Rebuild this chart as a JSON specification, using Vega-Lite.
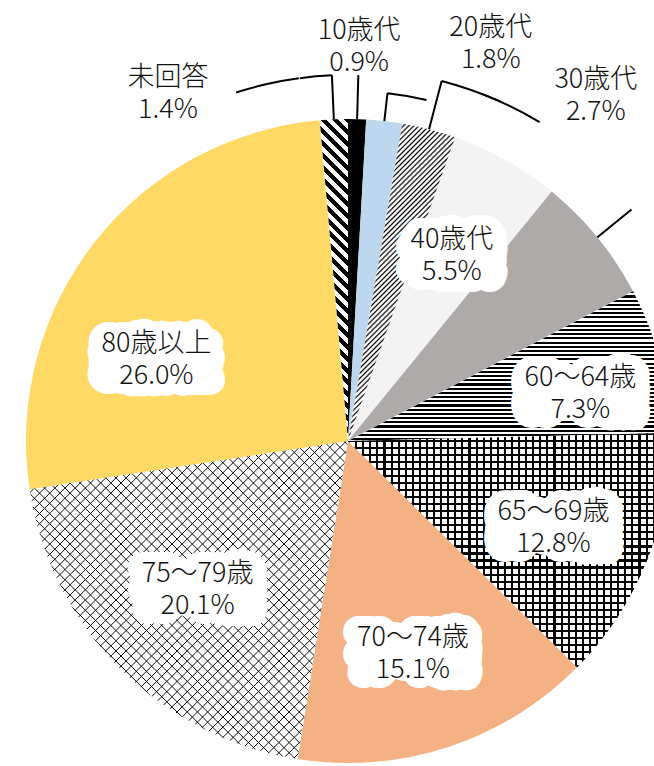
{
"$schema":"https://vega.github.io/schema/vega-lite/v6.json",
"width":612,"height":650,
"autosize":{"type":"none"},
"padding":{"left":42,"top":116,"right":0,"bottom":0},
"background":"white",
"usermeta":{"embedOptions":{"actions":false}},
"config":{"view":{"stroke":null}},
"data":{"values":[
{"group":"10歳代","share":0.009},
{"group":"20歳代","share":0.018},
{"group":"30歳代","share":0.027},
{"group":"40歳代","share":0.055},
{"group":"50歳代","share":0.064},
{"group":"60～64歳","share":0.073},
{"group":"65～69歳","share":0.128},
{"group":"70～74歳","share":0.151},
{"group":"75～79歳","share":0.201},
{"group":"80歳以上","share":0.26},
{"group":"未回答","share":0.014}
]},
"encoding":{
"theta":{"field":"share","type":"quantitative","stack":true,"scale":{"domain":[0,1]}},
"order":{"field":"group","type":"ordinal","sort":"ascending"},
"detail":{"field":"group","type":"nominal"}
},
"layer":[
{"mark":{"type":"arc","outerRadius":322},
"encoding":{"fill":{"field":"group","type":"nominal","legend":null,"scale":{"domain":["10歳代","20歳代","30歳代","40歳代","50歳代","60～64歳","65～69歳","70～74歳","75～79歳","80歳以上","未回答"],"range":["#000000","#BDD7EE","#ffffff","#f3f3f3","#AEAAAA","#ffffff","#ffffff","#F4B183","#ffffff","#FFD966","#ffffff"]}}}},
{"mark":{"type":"arc","outerRadius":322},
"encoding":{"fill":{"condition":[
{"test":"datum.group==='30歳代'","value":{"gradient":"linear","x1":0,"y1":0,"x2":0.4048,"y2":1.2007,"stops":[
{"offset":0,"color":"transparent"},{"offset":0.004,"color":"#000"},{"offset":0.008,"color":"transparent"},
{"offset":0.012,"color":"transparent"},{"offset":0.016,"color":"#000"},{"offset":0.02,"color":"transparent"},
{"offset":0.024,"color":"transparent"},{"offset":0.028,"color":"#000"},{"offset":0.032,"color":"transparent"},
{"offset":0.036,"color":"transparent"},{"offset":0.04,"color":"#000"},{"offset":0.044,"color":"transparent"},
{"offset":0.048,"color":"transparent"},{"offset":0.052,"color":"#000"},{"offset":0.056,"color":"transparent"},
{"offset":0.06,"color":"transparent"},{"offset":0.064,"color":"#000"},{"offset":0.068,"color":"transparent"},
{"offset":0.072,"color":"transparent"},{"offset":0.076,"color":"#000"},{"offset":0.08,"color":"transparent"},
{"offset":0.084,"color":"transparent"},{"offset":0.088,"color":"#000"},{"offset":0.092,"color":"transparent"},
{"offset":0.096,"color":"transparent"},{"offset":0.1,"color":"#000"},{"offset":0.104,"color":"transparent"},
{"offset":0.108,"color":"transparent"},{"offset":0.112,"color":"#000"},{"offset":0.116,"color":"transparent"},
{"offset":0.12,"color":"transparent"},{"offset":0.124,"color":"#000"},{"offset":0.128,"color":"transparent"},
{"offset":0.132,"color":"transparent"},{"offset":0.136,"color":"#000"},{"offset":0.14,"color":"transparent"},
{"offset":0.144,"color":"transparent"},{"offset":0.148,"color":"#000"},{"offset":0.152,"color":"transparent"},
{"offset":0.156,"color":"transparent"},{"offset":0.16,"color":"#000"},{"offset":0.164,"color":"transparent"},
{"offset":0.168,"color":"transparent"},{"offset":0.172,"color":"#000"},{"offset":0.176,"color":"transparent"},
{"offset":0.18,"color":"transparent"},{"offset":0.184,"color":"#000"},{"offset":0.188,"color":"transparent"},
{"offset":0.192,"color":"transparent"},{"offset":0.196,"color":"#000"},{"offset":0.2,"color":"transparent"},
{"offset":0.204,"color":"transparent"},{"offset":0.208,"color":"#000"},{"offset":0.212,"color":"transparent"},
{"offset":0.216,"color":"transparent"},{"offset":0.22,"color":"#000"},{"offset":0.224,"color":"transparent"},
{"offset":0.228,"color":"transparent"},{"offset":0.232,"color":"#000"},{"offset":0.236,"color":"transparent"},
{"offset":0.24,"color":"transparent"},{"offset":0.244,"color":"#000"},{"offset":0.248,"color":"transparent"},
{"offset":0.252,"color":"transparent"},{"offset":0.256,"color":"#000"},{"offset":0.26,"color":"transparent"},
{"offset":0.264,"color":"transparent"},{"offset":0.268,"color":"#000"},{"offset":0.272,"color":"transparent"},
{"offset":0.276,"color":"transparent"},{"offset":0.28,"color":"#000"},{"offset":0.284,"color":"transparent"},
{"offset":0.288,"color":"transparent"},{"offset":0.292,"color":"#000"},{"offset":0.296,"color":"transparent"},
{"offset":0.3,"color":"transparent"},{"offset":0.304,"color":"#000"},{"offset":0.308,"color":"transparent"},
{"offset":0.312,"color":"transparent"},{"offset":0.316,"color":"#000"},{"offset":0.32,"color":"transparent"},
{"offset":0.324,"color":"transparent"},{"offset":0.328,"color":"#000"},{"offset":0.332,"color":"transparent"},
{"offset":0.336,"color":"transparent"},{"offset":0.34,"color":"#000"},{"offset":0.344,"color":"transparent"},
{"offset":0.348,"color":"transparent"},{"offset":0.352,"color":"#000"},{"offset":0.356,"color":"transparent"},
{"offset":0.36,"color":"transparent"},{"offset":0.364,"color":"#000"},{"offset":0.368,"color":"transparent"},
{"offset":0.372,"color":"transparent"},{"offset":0.376,"color":"#000"},{"offset":0.38,"color":"transparent"},
{"offset":0.384,"color":"transparent"},{"offset":0.388,"color":"#000"},{"offset":0.392,"color":"transparent"},
{"offset":0.396,"color":"transparent"},{"offset":0.4,"color":"#000"},{"offset":0.404,"color":"transparent"},
{"offset":0.408,"color":"transparent"},{"offset":0.412,"color":"#000"},{"offset":0.416,"color":"transparent"},
{"offset":0.42,"color":"transparent"},{"offset":0.424,"color":"#000"},{"offset":0.428,"color":"transparent"},
{"offset":0.432,"color":"transparent"},{"offset":0.436,"color":"#000"},{"offset":0.44,"color":"transparent"},
{"offset":0.444,"color":"transparent"},{"offset":0.448,"color":"#000"},{"offset":0.452,"color":"transparent"},
{"offset":0.456,"color":"transparent"},{"offset":0.46,"color":"#000"},{"offset":0.464,"color":"transparent"},
{"offset":0.468,"color":"transparent"},{"offset":0.472,"color":"#000"},{"offset":0.476,"color":"transparent"},
{"offset":0.48,"color":"transparent"},{"offset":0.484,"color":"#000"},{"offset":0.488,"color":"transparent"},
{"offset":0.492,"color":"transparent"},{"offset":0.496,"color":"#000"},{"offset":0.5,"color":"transparent"},
{"offset":0.504,"color":"transparent"},{"offset":0.508,"color":"#000"},{"offset":0.512,"color":"transparent"},
{"offset":0.516,"color":"transparent"},{"offset":0.52,"color":"#000"},{"offset":0.524,"color":"transparent"},
{"offset":0.528,"color":"transparent"},{"offset":0.532,"color":"#000"},{"offset":0.536,"color":"transparent"},
{"offset":0.54,"color":"transparent"},{"offset":0.544,"color":"#000"},{"offset":0.548,"color":"transparent"},
{"offset":0.552,"color":"transparent"},{"offset":0.556,"color":"#000"},{"offset":0.56,"color":"transparent"},
{"offset":0.564,"color":"transparent"},{"offset":0.568,"color":"#000"},{"offset":0.572,"color":"transparent"},
{"offset":0.576,"color":"transparent"},{"offset":0.58,"color":"#000"},{"offset":0.584,"color":"transparent"},
{"offset":0.588,"color":"transparent"},{"offset":0.592,"color":"#000"},{"offset":0.596,"color":"transparent"},
{"offset":0.6,"color":"transparent"},{"offset":0.604,"color":"#000"},{"offset":0.608,"color":"transparent"},
{"offset":0.612,"color":"transparent"},{"offset":0.616,"color":"#000"},{"offset":0.62,"color":"transparent"},
{"offset":0.624,"color":"transparent"},{"offset":0.628,"color":"#000"},{"offset":0.632,"color":"transparent"},
{"offset":0.636,"color":"transparent"},{"offset":0.64,"color":"#000"},{"offset":0.644,"color":"transparent"},
{"offset":0.648,"color":"transparent"},{"offset":0.652,"color":"#000"},{"offset":0.656,"color":"transparent"},
{"offset":0.66,"color":"transparent"},{"offset":0.664,"color":"#000"},{"offset":0.668,"color":"transparent"},
{"offset":0.672,"color":"transparent"},{"offset":0.676,"color":"#000"},{"offset":0.68,"color":"transparent"},
{"offset":0.684,"color":"transparent"},{"offset":0.688,"color":"#000"},{"offset":0.692,"color":"transparent"},
{"offset":0.696,"color":"transparent"},{"offset":0.7,"color":"#000"},{"offset":0.704,"color":"transparent"},
{"offset":0.708,"color":"transparent"},{"offset":0.712,"color":"#000"},{"offset":0.716,"color":"transparent"},
{"offset":0.72,"color":"transparent"},{"offset":0.724,"color":"#000"},{"offset":0.728,"color":"transparent"},
{"offset":0.732,"color":"transparent"},{"offset":0.736,"color":"#000"},{"offset":0.74,"color":"transparent"},
{"offset":0.744,"color":"transparent"},{"offset":0.748,"color":"#000"},{"offset":0.752,"color":"transparent"},
{"offset":0.756,"color":"transparent"},{"offset":0.76,"color":"#000"},{"offset":0.764,"color":"transparent"},
{"offset":0.768,"color":"transparent"},{"offset":0.772,"color":"#000"},{"offset":0.776,"color":"transparent"},
{"offset":0.78,"color":"transparent"},{"offset":0.784,"color":"#000"},{"offset":0.788,"color":"transparent"},
{"offset":0.792,"color":"transparent"},{"offset":0.796,"color":"#000"},{"offset":0.8,"color":"transparent"},
{"offset":0.804,"color":"transparent"},{"offset":0.808,"color":"#000"},{"offset":0.812,"color":"transparent"},
{"offset":0.816,"color":"transparent"},{"offset":0.82,"color":"#000"},{"offset":0.824,"color":"transparent"},
{"offset":0.828,"color":"transparent"},{"offset":0.832,"color":"#000"},{"offset":0.836,"color":"transparent"},
{"offset":0.84,"color":"transparent"},{"offset":0.844,"color":"#000"},{"offset":0.848,"color":"transparent"},
{"offset":0.852,"color":"transparent"},{"offset":0.856,"color":"#000"},{"offset":0.86,"color":"transparent"},
{"offset":0.864,"color":"transparent"},{"offset":0.868,"color":"#000"},{"offset":0.872,"color":"transparent"},
{"offset":0.876,"color":"transparent"},{"offset":0.88,"color":"#000"},{"offset":0.884,"color":"transparent"},
{"offset":0.888,"color":"transparent"},{"offset":0.892,"color":"#000"},{"offset":0.896,"color":"transparent"},
{"offset":0.9,"color":"transparent"},{"offset":0.904,"color":"#000"},{"offset":0.908,"color":"transparent"},
{"offset":0.912,"color":"transparent"},{"offset":0.916,"color":"#000"},{"offset":0.92,"color":"transparent"},
{"offset":0.924,"color":"transparent"},{"offset":0.928,"color":"#000"},{"offset":0.932,"color":"transparent"},
{"offset":0.936,"color":"transparent"},{"offset":0.94,"color":"#000"},{"offset":0.944,"color":"transparent"},
{"offset":0.948,"color":"transparent"},{"offset":0.952,"color":"#000"},{"offset":0.956,"color":"transparent"},
{"offset":0.96,"color":"transparent"},{"offset":0.964,"color":"#000"},{"offset":0.968,"color":"transparent"},
{"offset":0.972,"color":"transparent"},{"offset":0.976,"color":"#000"},{"offset":0.98,"color":"transparent"},
{"offset":0.984,"color":"transparent"},{"offset":0.988,"color":"#000"},{"offset":0.992,"color":"transparent"},
{"offset":0.996,"color":"transparent"},{"offset":1,"color":"#000"}
]}},
{"test":"datum.group==='60～64歳'","value":{"gradient":"linear","x1":0,"y1":0,"x2":0,"y2":1,"stops":[
{"offset":0,"color":"#000"},{"offset":0.014,"color":"#000"},{"offset":0.014,"color":"#fff"},{"offset":0.028,"color":"#fff"},
{"offset":0.028,"color":"#000"},{"offset":0.042,"color":"#000"},{"offset":0.042,"color":"#fff"},{"offset":0.056,"color":"#fff"},
{"offset":0.056,"color":"#000"},{"offset":0.07,"color":"#000"},{"offset":0.07,"color":"#fff"},{"offset":0.084,"color":"#fff"},
{"offset":0.084,"color":"#000"},{"offset":0.098,"color":"#000"},{"offset":0.098,"color":"#fff"},{"offset":0.112,"color":"#fff"},
{"offset":0.112,"color":"#000"},{"offset":0.126,"color":"#000"},{"offset":0.126,"color":"#fff"},{"offset":0.14,"color":"#fff"},
{"offset":0.14,"color":"#000"},{"offset":0.154,"color":"#000"},{"offset":0.154,"color":"#fff"},{"offset":0.168,"color":"#fff"},
{"offset":0.168,"color":"#000"},{"offset":0.182,"color":"#000"},{"offset":0.182,"color":"#fff"},{"offset":0.196,"color":"#fff"},
{"offset":0.196,"color":"#000"},{"offset":0.21,"color":"#000"},{"offset":0.21,"color":"#fff"},{"offset":0.224,"color":"#fff"},
{"offset":0.224,"color":"#000"},{"offset":0.238,"color":"#000"},{"offset":0.238,"color":"#fff"},{"offset":0.252,"color":"#fff"},
{"offset":0.252,"color":"#000"},{"offset":0.266,"color":"#000"},{"offset":0.266,"color":"#fff"},{"offset":0.28,"color":"#fff"},
{"offset":0.28,"color":"#000"},{"offset":0.294,"color":"#000"},{"offset":0.294,"color":"#fff"},{"offset":0.308,"color":"#fff"},
{"offset":0.308,"color":"#000"},{"offset":0.322,"color":"#000"},{"offset":0.322,"color":"#fff"},{"offset":0.336,"color":"#fff"},
{"offset":0.336,"color":"#000"},{"offset":0.35,"color":"#000"},{"offset":0.35,"color":"#fff"},{"offset":0.364,"color":"#fff"},
{"offset":0.364,"color":"#000"},{"offset":0.378,"color":"#000"},{"offset":0.378,"color":"#fff"},{"offset":0.392,"color":"#fff"},
{"offset":0.392,"color":"#000"},{"offset":0.406,"color":"#000"},{"offset":0.406,"color":"#fff"},{"offset":0.42,"color":"#fff"},
{"offset":0.42,"color":"#000"},{"offset":0.434,"color":"#000"},{"offset":0.434,"color":"#fff"},{"offset":0.448,"color":"#fff"},
{"offset":0.448,"color":"#000"},{"offset":0.462,"color":"#000"},{"offset":0.462,"color":"#fff"},{"offset":0.476,"color":"#fff"},
{"offset":0.476,"color":"#000"},{"offset":0.49,"color":"#000"},{"offset":0.49,"color":"#fff"},{"offset":0.504,"color":"#fff"},
{"offset":0.504,"color":"#000"},{"offset":0.518,"color":"#000"},{"offset":0.518,"color":"#fff"},{"offset":0.532,"color":"#fff"},
{"offset":0.532,"color":"#000"},{"offset":0.546,"color":"#000"},{"offset":0.546,"color":"#fff"},{"offset":0.56,"color":"#fff"},
{"offset":0.56,"color":"#000"},{"offset":0.574,"color":"#000"},{"offset":0.574,"color":"#fff"},{"offset":0.588,"color":"#fff"},
{"offset":0.588,"color":"#000"},{"offset":0.602,"color":"#000"},{"offset":0.602,"color":"#fff"},{"offset":0.616,"color":"#fff"},
{"offset":0.616,"color":"#000"},{"offset":0.63,"color":"#000"},{"offset":0.63,"color":"#fff"},{"offset":0.644,"color":"#fff"},
{"offset":0.644,"color":"#000"},{"offset":0.658,"color":"#000"},{"offset":0.658,"color":"#fff"},{"offset":0.672,"color":"#fff"},
{"offset":0.672,"color":"#000"},{"offset":0.686,"color":"#000"},{"offset":0.686,"color":"#fff"},{"offset":0.7,"color":"#fff"},
{"offset":0.7,"color":"#000"},{"offset":0.714,"color":"#000"},{"offset":0.714,"color":"#fff"},{"offset":0.728,"color":"#fff"},
{"offset":0.728,"color":"#000"},{"offset":0.742,"color":"#000"},{"offset":0.742,"color":"#fff"},{"offset":0.756,"color":"#fff"},
{"offset":0.756,"color":"#000"},{"offset":0.77,"color":"#000"},{"offset":0.77,"color":"#fff"},{"offset":0.784,"color":"#fff"},
{"offset":0.784,"color":"#000"},{"offset":0.798,"color":"#000"},{"offset":0.798,"color":"#fff"},{"offset":0.812,"color":"#fff"},
{"offset":0.812,"color":"#000"},{"offset":0.826,"color":"#000"},{"offset":0.826,"color":"#fff"},{"offset":0.84,"color":"#fff"},
{"offset":0.84,"color":"#000"},{"offset":0.854,"color":"#000"},{"offset":0.854,"color":"#fff"},{"offset":0.868,"color":"#fff"},
{"offset":0.868,"color":"#000"},{"offset":0.882,"color":"#000"},{"offset":0.882,"color":"#fff"},{"offset":0.896,"color":"#fff"},
{"offset":0.896,"color":"#000"},{"offset":0.91,"color":"#000"},{"offset":0.91,"color":"#fff"},{"offset":0.924,"color":"#fff"},
{"offset":0.924,"color":"#000"},{"offset":0.938,"color":"#000"},{"offset":0.938,"color":"#fff"},{"offset":0.952,"color":"#fff"},
{"offset":0.952,"color":"#000"},{"offset":0.966,"color":"#000"},{"offset":0.966,"color":"#fff"},{"offset":0.98,"color":"#fff"},
{"offset":0.98,"color":"#000"},{"offset":0.994,"color":"#000"},{"offset":0.994,"color":"#fff"},{"offset":1,"color":"#fff"}
]}},
{"test":"datum.group==='65～69歳'","value":{"gradient":"linear","x1":0,"y1":0,"x2":0,"y2":1,"stops":[
{"offset":0,"color":"#000"},{"offset":0.009,"color":"#000"},{"offset":0.009,"color":"#fff"},{"offset":0.03,"color":"#fff"},
{"offset":0.03,"color":"#000"},{"offset":0.039,"color":"#000"},{"offset":0.039,"color":"#fff"},{"offset":0.06,"color":"#fff"},
{"offset":0.06,"color":"#000"},{"offset":0.069,"color":"#000"},{"offset":0.069,"color":"#fff"},{"offset":0.09,"color":"#fff"},
{"offset":0.09,"color":"#000"},{"offset":0.099,"color":"#000"},{"offset":0.099,"color":"#fff"},{"offset":0.12,"color":"#fff"},
{"offset":0.12,"color":"#000"},{"offset":0.129,"color":"#000"},{"offset":0.129,"color":"#fff"},{"offset":0.15,"color":"#fff"},
{"offset":0.15,"color":"#000"},{"offset":0.159,"color":"#000"},{"offset":0.159,"color":"#fff"},{"offset":0.18,"color":"#fff"},
{"offset":0.18,"color":"#000"},{"offset":0.189,"color":"#000"},{"offset":0.189,"color":"#fff"},{"offset":0.21,"color":"#fff"},
{"offset":0.21,"color":"#000"},{"offset":0.219,"color":"#000"},{"offset":0.219,"color":"#fff"},{"offset":0.24,"color":"#fff"},
{"offset":0.24,"color":"#000"},{"offset":0.249,"color":"#000"},{"offset":0.249,"color":"#fff"},{"offset":0.27,"color":"#fff"},
{"offset":0.27,"color":"#000"},{"offset":0.279,"color":"#000"},{"offset":0.279,"color":"#fff"},{"offset":0.3,"color":"#fff"},
{"offset":0.3,"color":"#000"},{"offset":0.309,"color":"#000"},{"offset":0.309,"color":"#fff"},{"offset":0.33,"color":"#fff"},
{"offset":0.33,"color":"#000"},{"offset":0.339,"color":"#000"},{"offset":0.339,"color":"#fff"},{"offset":0.36,"color":"#fff"},
{"offset":0.36,"color":"#000"},{"offset":0.369,"color":"#000"},{"offset":0.369,"color":"#fff"},{"offset":0.39,"color":"#fff"},
{"offset":0.39,"color":"#000"},{"offset":0.399,"color":"#000"},{"offset":0.399,"color":"#fff"},{"offset":0.42,"color":"#fff"},
{"offset":0.42,"color":"#000"},{"offset":0.429,"color":"#000"},{"offset":0.429,"color":"#fff"},{"offset":0.45,"color":"#fff"},
{"offset":0.45,"color":"#000"},{"offset":0.459,"color":"#000"},{"offset":0.459,"color":"#fff"},{"offset":0.48,"color":"#fff"},
{"offset":0.48,"color":"#000"},{"offset":0.489,"color":"#000"},{"offset":0.489,"color":"#fff"},{"offset":0.51,"color":"#fff"},
{"offset":0.51,"color":"#000"},{"offset":0.519,"color":"#000"},{"offset":0.519,"color":"#fff"},{"offset":0.54,"color":"#fff"},
{"offset":0.54,"color":"#000"},{"offset":0.549,"color":"#000"},{"offset":0.549,"color":"#fff"},{"offset":0.57,"color":"#fff"},
{"offset":0.57,"color":"#000"},{"offset":0.579,"color":"#000"},{"offset":0.579,"color":"#fff"},{"offset":0.6,"color":"#fff"},
{"offset":0.6,"color":"#000"},{"offset":0.609,"color":"#000"},{"offset":0.609,"color":"#fff"},{"offset":0.63,"color":"#fff"},
{"offset":0.63,"color":"#000"},{"offset":0.639,"color":"#000"},{"offset":0.639,"color":"#fff"},{"offset":0.66,"color":"#fff"},
{"offset":0.66,"color":"#000"},{"offset":0.669,"color":"#000"},{"offset":0.669,"color":"#fff"},{"offset":0.69,"color":"#fff"},
{"offset":0.69,"color":"#000"},{"offset":0.699,"color":"#000"},{"offset":0.699,"color":"#fff"},{"offset":0.72,"color":"#fff"},
{"offset":0.72,"color":"#000"},{"offset":0.729,"color":"#000"},{"offset":0.729,"color":"#fff"},{"offset":0.75,"color":"#fff"},
{"offset":0.75,"color":"#000"},{"offset":0.759,"color":"#000"},{"offset":0.759,"color":"#fff"},{"offset":0.78,"color":"#fff"},
{"offset":0.78,"color":"#000"},{"offset":0.789,"color":"#000"},{"offset":0.789,"color":"#fff"},{"offset":0.81,"color":"#fff"},
{"offset":0.81,"color":"#000"},{"offset":0.819,"color":"#000"},{"offset":0.819,"color":"#fff"},{"offset":0.84,"color":"#fff"},
{"offset":0.84,"color":"#000"},{"offset":0.849,"color":"#000"},{"offset":0.849,"color":"#fff"},{"offset":0.87,"color":"#fff"},
{"offset":0.87,"color":"#000"},{"offset":0.879,"color":"#000"},{"offset":0.879,"color":"#fff"},{"offset":0.9,"color":"#fff"},
{"offset":0.9,"color":"#000"},{"offset":0.909,"color":"#000"},{"offset":0.909,"color":"#fff"},{"offset":0.93,"color":"#fff"},
{"offset":0.93,"color":"#000"},{"offset":0.939,"color":"#000"},{"offset":0.939,"color":"#fff"},{"offset":0.96,"color":"#fff"},
{"offset":0.96,"color":"#000"},{"offset":0.969,"color":"#000"},{"offset":0.969,"color":"#fff"},{"offset":0.99,"color":"#fff"},
{"offset":0.99,"color":"#000"},{"offset":0.999,"color":"#000"},{"offset":0.999,"color":"#fff"},{"offset":1,"color":"#fff"}
]}},
{"test":"datum.group==='75～79歳'","value":{"gradient":"linear","x1":0,"y1":0,"x2":1,"y2":1,"stops":[
{"offset":0,"color":"transparent"},{"offset":0.0015,"color":"#000"},{"offset":0.003,"color":"transparent"},
{"offset":0.016,"color":"transparent"},{"offset":0.0175,"color":"#000"},{"offset":0.019,"color":"transparent"},
{"offset":0.032,"color":"transparent"},{"offset":0.0335,"color":"#000"},{"offset":0.035,"color":"transparent"},
{"offset":0.048,"color":"transparent"},{"offset":0.0495,"color":"#000"},{"offset":0.051,"color":"transparent"},
{"offset":0.064,"color":"transparent"},{"offset":0.0655,"color":"#000"},{"offset":0.067,"color":"transparent"},
{"offset":0.08,"color":"transparent"},{"offset":0.0815,"color":"#000"},{"offset":0.083,"color":"transparent"},
{"offset":0.096,"color":"transparent"},{"offset":0.0975,"color":"#000"},{"offset":0.099,"color":"transparent"},
{"offset":0.112,"color":"transparent"},{"offset":0.1135,"color":"#000"},{"offset":0.115,"color":"transparent"},
{"offset":0.128,"color":"transparent"},{"offset":0.1295,"color":"#000"},{"offset":0.131,"color":"transparent"},
{"offset":0.144,"color":"transparent"},{"offset":0.1455,"color":"#000"},{"offset":0.147,"color":"transparent"},
{"offset":0.16,"color":"transparent"},{"offset":0.1615,"color":"#000"},{"offset":0.163,"color":"transparent"},
{"offset":0.176,"color":"transparent"},{"offset":0.1775,"color":"#000"},{"offset":0.179,"color":"transparent"},
{"offset":0.192,"color":"transparent"},{"offset":0.1935,"color":"#000"},{"offset":0.195,"color":"transparent"},
{"offset":0.208,"color":"transparent"},{"offset":0.2095,"color":"#000"},{"offset":0.211,"color":"transparent"},
{"offset":0.224,"color":"transparent"},{"offset":0.2255,"color":"#000"},{"offset":0.227,"color":"transparent"},
{"offset":0.24,"color":"transparent"},{"offset":0.2415,"color":"#000"},{"offset":0.243,"color":"transparent"},
{"offset":0.256,"color":"transparent"},{"offset":0.2575,"color":"#000"},{"offset":0.259,"color":"transparent"},
{"offset":0.272,"color":"transparent"},{"offset":0.2735,"color":"#000"},{"offset":0.275,"color":"transparent"},
{"offset":0.288,"color":"transparent"},{"offset":0.2895,"color":"#000"},{"offset":0.291,"color":"transparent"},
{"offset":0.304,"color":"transparent"},{"offset":0.3055,"color":"#000"},{"offset":0.307,"color":"transparent"},
{"offset":0.32,"color":"transparent"},{"offset":0.3215,"color":"#000"},{"offset":0.323,"color":"transparent"},
{"offset":0.336,"color":"transparent"},{"offset":0.3375,"color":"#000"},{"offset":0.339,"color":"transparent"},
{"offset":0.352,"color":"transparent"},{"offset":0.3535,"color":"#000"},{"offset":0.355,"color":"transparent"},
{"offset":0.368,"color":"transparent"},{"offset":0.3695,"color":"#000"},{"offset":0.371,"color":"transparent"},
{"offset":0.384,"color":"transparent"},{"offset":0.3855,"color":"#000"},{"offset":0.387,"color":"transparent"},
{"offset":0.4,"color":"transparent"},{"offset":0.4015,"color":"#000"},{"offset":0.403,"color":"transparent"},
{"offset":0.416,"color":"transparent"},{"offset":0.4175,"color":"#000"},{"offset":0.419,"color":"transparent"},
{"offset":0.432,"color":"transparent"},{"offset":0.4335,"color":"#000"},{"offset":0.435,"color":"transparent"},
{"offset":0.448,"color":"transparent"},{"offset":0.4495,"color":"#000"},{"offset":0.451,"color":"transparent"},
{"offset":0.464,"color":"transparent"},{"offset":0.4655,"color":"#000"},{"offset":0.467,"color":"transparent"},
{"offset":0.48,"color":"transparent"},{"offset":0.4815,"color":"#000"},{"offset":0.483,"color":"transparent"},
{"offset":0.496,"color":"transparent"},{"offset":0.4975,"color":"#000"},{"offset":0.499,"color":"transparent"},
{"offset":0.512,"color":"transparent"},{"offset":0.5135,"color":"#000"},{"offset":0.515,"color":"transparent"},
{"offset":0.528,"color":"transparent"},{"offset":0.5295,"color":"#000"},{"offset":0.531,"color":"transparent"},
{"offset":0.544,"color":"transparent"},{"offset":0.5455,"color":"#000"},{"offset":0.547,"color":"transparent"},
{"offset":0.56,"color":"transparent"},{"offset":0.5615,"color":"#000"},{"offset":0.563,"color":"transparent"},
{"offset":0.576,"color":"transparent"},{"offset":0.5775,"color":"#000"},{"offset":0.579,"color":"transparent"},
{"offset":0.592,"color":"transparent"},{"offset":0.5935,"color":"#000"},{"offset":0.595,"color":"transparent"},
{"offset":0.608,"color":"transparent"},{"offset":0.6095,"color":"#000"},{"offset":0.611,"color":"transparent"},
{"offset":0.624,"color":"transparent"},{"offset":0.6255,"color":"#000"},{"offset":0.627,"color":"transparent"},
{"offset":0.64,"color":"transparent"},{"offset":0.6415,"color":"#000"},{"offset":0.643,"color":"transparent"},
{"offset":0.656,"color":"transparent"},{"offset":0.6575,"color":"#000"},{"offset":0.659,"color":"transparent"},
{"offset":0.672,"color":"transparent"},{"offset":0.6735,"color":"#000"},{"offset":0.675,"color":"transparent"},
{"offset":0.688,"color":"transparent"},{"offset":0.6895,"color":"#000"},{"offset":0.691,"color":"transparent"},
{"offset":0.704,"color":"transparent"},{"offset":0.7055,"color":"#000"},{"offset":0.707,"color":"transparent"},
{"offset":0.72,"color":"transparent"},{"offset":0.7215,"color":"#000"},{"offset":0.723,"color":"transparent"},
{"offset":0.736,"color":"transparent"},{"offset":0.7375,"color":"#000"},{"offset":0.739,"color":"transparent"},
{"offset":0.752,"color":"transparent"},{"offset":0.7535,"color":"#000"},{"offset":0.755,"color":"transparent"},
{"offset":0.768,"color":"transparent"},{"offset":0.7695,"color":"#000"},{"offset":0.771,"color":"transparent"},
{"offset":0.784,"color":"transparent"},{"offset":0.7855,"color":"#000"},{"offset":0.787,"color":"transparent"},
{"offset":0.8,"color":"transparent"},{"offset":0.8015,"color":"#000"},{"offset":0.803,"color":"transparent"},
{"offset":0.816,"color":"transparent"},{"offset":0.8175,"color":"#000"},{"offset":0.819,"color":"transparent"},
{"offset":0.832,"color":"transparent"},{"offset":0.8335,"color":"#000"},{"offset":0.835,"color":"transparent"},
{"offset":0.848,"color":"transparent"},{"offset":0.8495,"color":"#000"},{"offset":0.851,"color":"transparent"},
{"offset":0.864,"color":"transparent"},{"offset":0.8655,"color":"#000"},{"offset":0.867,"color":"transparent"},
{"offset":0.88,"color":"transparent"},{"offset":0.8815,"color":"#000"},{"offset":0.883,"color":"transparent"},
{"offset":0.896,"color":"transparent"},{"offset":0.8975,"color":"#000"},{"offset":0.899,"color":"transparent"},
{"offset":0.912,"color":"transparent"},{"offset":0.9135,"color":"#000"},{"offset":0.915,"color":"transparent"},
{"offset":0.928,"color":"transparent"},{"offset":0.9295,"color":"#000"},{"offset":0.931,"color":"transparent"},
{"offset":0.944,"color":"transparent"},{"offset":0.9455,"color":"#000"},{"offset":0.947,"color":"transparent"},
{"offset":0.96,"color":"transparent"},{"offset":0.9615,"color":"#000"},{"offset":0.963,"color":"transparent"},
{"offset":0.976,"color":"transparent"},{"offset":0.9775,"color":"#000"},{"offset":0.979,"color":"transparent"},
{"offset":0.992,"color":"transparent"},{"offset":0.9935,"color":"#000"},{"offset":0.995,"color":"transparent"}
]}},
{"test":"datum.group==='未回答'","value":{"gradient":"linear","x1":0,"y1":1,"x2":0.0949,"y2":-0.0795,"stops":[
{"offset":0,"color":"#000"},{"offset":0.017,"color":"#000"},{"offset":0.017,"color":"#fff"},{"offset":0.034,"color":"#fff"},
{"offset":0.034,"color":"#000"},{"offset":0.051,"color":"#000"},{"offset":0.051,"color":"#fff"},{"offset":0.068,"color":"#fff"},
{"offset":0.068,"color":"#000"},{"offset":0.085,"color":"#000"},{"offset":0.085,"color":"#fff"},{"offset":0.102,"color":"#fff"},
{"offset":0.102,"color":"#000"},{"offset":0.119,"color":"#000"},{"offset":0.119,"color":"#fff"},{"offset":0.136,"color":"#fff"},
{"offset":0.136,"color":"#000"},{"offset":0.153,"color":"#000"},{"offset":0.153,"color":"#fff"},{"offset":0.17,"color":"#fff"},
{"offset":0.17,"color":"#000"},{"offset":0.187,"color":"#000"},{"offset":0.187,"color":"#fff"},{"offset":0.204,"color":"#fff"},
{"offset":0.204,"color":"#000"},{"offset":0.221,"color":"#000"},{"offset":0.221,"color":"#fff"},{"offset":0.238,"color":"#fff"},
{"offset":0.238,"color":"#000"},{"offset":0.255,"color":"#000"},{"offset":0.255,"color":"#fff"},{"offset":0.272,"color":"#fff"},
{"offset":0.272,"color":"#000"},{"offset":0.289,"color":"#000"},{"offset":0.289,"color":"#fff"},{"offset":0.306,"color":"#fff"},
{"offset":0.306,"color":"#000"},{"offset":0.323,"color":"#000"},{"offset":0.323,"color":"#fff"},{"offset":0.34,"color":"#fff"},
{"offset":0.34,"color":"#000"},{"offset":0.357,"color":"#000"},{"offset":0.357,"color":"#fff"},{"offset":0.374,"color":"#fff"},
{"offset":0.374,"color":"#000"},{"offset":0.391,"color":"#000"},{"offset":0.391,"color":"#fff"},{"offset":0.408,"color":"#fff"},
{"offset":0.408,"color":"#000"},{"offset":0.425,"color":"#000"},{"offset":0.425,"color":"#fff"},{"offset":0.442,"color":"#fff"},
{"offset":0.442,"color":"#000"},{"offset":0.459,"color":"#000"},{"offset":0.459,"color":"#fff"},{"offset":0.476,"color":"#fff"},
{"offset":0.476,"color":"#000"},{"offset":0.493,"color":"#000"},{"offset":0.493,"color":"#fff"},{"offset":0.51,"color":"#fff"},
{"offset":0.51,"color":"#000"},{"offset":0.527,"color":"#000"},{"offset":0.527,"color":"#fff"},{"offset":0.544,"color":"#fff"},
{"offset":0.544,"color":"#000"},{"offset":0.561,"color":"#000"},{"offset":0.561,"color":"#fff"},{"offset":0.578,"color":"#fff"},
{"offset":0.578,"color":"#000"},{"offset":0.595,"color":"#000"},{"offset":0.595,"color":"#fff"},{"offset":0.612,"color":"#fff"},
{"offset":0.612,"color":"#000"},{"offset":0.629,"color":"#000"},{"offset":0.629,"color":"#fff"},{"offset":0.646,"color":"#fff"},
{"offset":0.646,"color":"#000"},{"offset":0.663,"color":"#000"},{"offset":0.663,"color":"#fff"},{"offset":0.68,"color":"#fff"},
{"offset":0.68,"color":"#000"},{"offset":0.697,"color":"#000"},{"offset":0.697,"color":"#fff"},{"offset":0.714,"color":"#fff"},
{"offset":0.714,"color":"#000"},{"offset":0.731,"color":"#000"},{"offset":0.731,"color":"#fff"},{"offset":0.748,"color":"#fff"},
{"offset":0.748,"color":"#000"},{"offset":0.765,"color":"#000"},{"offset":0.765,"color":"#fff"},{"offset":0.782,"color":"#fff"},
{"offset":0.782,"color":"#000"},{"offset":0.799,"color":"#000"},{"offset":0.799,"color":"#fff"},{"offset":0.816,"color":"#fff"},
{"offset":0.816,"color":"#000"},{"offset":0.833,"color":"#000"},{"offset":0.833,"color":"#fff"},{"offset":0.85,"color":"#fff"},
{"offset":0.85,"color":"#000"},{"offset":0.867,"color":"#000"},{"offset":0.867,"color":"#fff"},{"offset":0.884,"color":"#fff"},
{"offset":0.884,"color":"#000"},{"offset":0.901,"color":"#000"},{"offset":0.901,"color":"#fff"},{"offset":0.918,"color":"#fff"},
{"offset":0.918,"color":"#000"},{"offset":0.935,"color":"#000"},{"offset":0.935,"color":"#fff"},{"offset":0.952,"color":"#fff"},
{"offset":0.952,"color":"#000"},{"offset":0.969,"color":"#000"},{"offset":0.969,"color":"#fff"},{"offset":0.986,"color":"#fff"},
{"offset":0.986,"color":"#000"},{"offset":1,"color":"#000"}
]}}
],"value":"transparent"}}},
{"mark":{"type":"arc","outerRadius":322},
"encoding":{"fill":{"condition":[
{"test":"datum.group==='65～69歳'","value":{"gradient":"linear","x1":0,"y1":0,"x2":1,"y2":0,"stops":[
{"offset":0,"color":"#000"},{"offset":0.0065,"color":"#000"},{"offset":0.0065,"color":"transparent"},{"offset":0.022,"color":"transparent"},
{"offset":0.022,"color":"#000"},{"offset":0.0285,"color":"#000"},{"offset":0.0285,"color":"transparent"},{"offset":0.044,"color":"transparent"},
{"offset":0.044,"color":"#000"},{"offset":0.0505,"color":"#000"},{"offset":0.0505,"color":"transparent"},{"offset":0.066,"color":"transparent"},
{"offset":0.066,"color":"#000"},{"offset":0.0725,"color":"#000"},{"offset":0.0725,"color":"transparent"},{"offset":0.088,"color":"transparent"},
{"offset":0.088,"color":"#000"},{"offset":0.0945,"color":"#000"},{"offset":0.0945,"color":"transparent"},{"offset":0.11,"color":"transparent"},
{"offset":0.11,"color":"#000"},{"offset":0.1165,"color":"#000"},{"offset":0.1165,"color":"transparent"},{"offset":0.132,"color":"transparent"},
{"offset":0.132,"color":"#000"},{"offset":0.1385,"color":"#000"},{"offset":0.1385,"color":"transparent"},{"offset":0.154,"color":"transparent"},
{"offset":0.154,"color":"#000"},{"offset":0.1605,"color":"#000"},{"offset":0.1605,"color":"transparent"},{"offset":0.176,"color":"transparent"},
{"offset":0.176,"color":"#000"},{"offset":0.1825,"color":"#000"},{"offset":0.1825,"color":"transparent"},{"offset":0.198,"color":"transparent"},
{"offset":0.198,"color":"#000"},{"offset":0.2045,"color":"#000"},{"offset":0.2045,"color":"transparent"},{"offset":0.22,"color":"transparent"},
{"offset":0.22,"color":"#000"},{"offset":0.2265,"color":"#000"},{"offset":0.2265,"color":"transparent"},{"offset":0.242,"color":"transparent"},
{"offset":0.242,"color":"#000"},{"offset":0.2485,"color":"#000"},{"offset":0.2485,"color":"transparent"},{"offset":0.264,"color":"transparent"},
{"offset":0.264,"color":"#000"},{"offset":0.2705,"color":"#000"},{"offset":0.2705,"color":"transparent"},{"offset":0.286,"color":"transparent"},
{"offset":0.286,"color":"#000"},{"offset":0.2925,"color":"#000"},{"offset":0.2925,"color":"transparent"},{"offset":0.308,"color":"transparent"},
{"offset":0.308,"color":"#000"},{"offset":0.3145,"color":"#000"},{"offset":0.3145,"color":"transparent"},{"offset":0.33,"color":"transparent"},
{"offset":0.33,"color":"#000"},{"offset":0.3365,"color":"#000"},{"offset":0.3365,"color":"transparent"},{"offset":0.352,"color":"transparent"},
{"offset":0.352,"color":"#000"},{"offset":0.3585,"color":"#000"},{"offset":0.3585,"color":"transparent"},{"offset":0.374,"color":"transparent"},
{"offset":0.374,"color":"#000"},{"offset":0.3805,"color":"#000"},{"offset":0.3805,"color":"transparent"},{"offset":0.396,"color":"transparent"},
{"offset":0.396,"color":"#000"},{"offset":0.4025,"color":"#000"},{"offset":0.4025,"color":"transparent"},{"offset":0.418,"color":"transparent"},
{"offset":0.418,"color":"#000"},{"offset":0.4245,"color":"#000"},{"offset":0.4245,"color":"transparent"},{"offset":0.44,"color":"transparent"},
{"offset":0.44,"color":"#000"},{"offset":0.4465,"color":"#000"},{"offset":0.4465,"color":"transparent"},{"offset":0.462,"color":"transparent"},
{"offset":0.462,"color":"#000"},{"offset":0.4685,"color":"#000"},{"offset":0.4685,"color":"transparent"},{"offset":0.484,"color":"transparent"},
{"offset":0.484,"color":"#000"},{"offset":0.4905,"color":"#000"},{"offset":0.4905,"color":"transparent"},{"offset":0.506,"color":"transparent"},
{"offset":0.506,"color":"#000"},{"offset":0.5125,"color":"#000"},{"offset":0.5125,"color":"transparent"},{"offset":0.528,"color":"transparent"},
{"offset":0.528,"color":"#000"},{"offset":0.5345,"color":"#000"},{"offset":0.5345,"color":"transparent"},{"offset":0.55,"color":"transparent"},
{"offset":0.55,"color":"#000"},{"offset":0.5565,"color":"#000"},{"offset":0.5565,"color":"transparent"},{"offset":0.572,"color":"transparent"},
{"offset":0.572,"color":"#000"},{"offset":0.5785,"color":"#000"},{"offset":0.5785,"color":"transparent"},{"offset":0.594,"color":"transparent"},
{"offset":0.594,"color":"#000"},{"offset":0.6005,"color":"#000"},{"offset":0.6005,"color":"transparent"},{"offset":0.616,"color":"transparent"},
{"offset":0.616,"color":"#000"},{"offset":0.6225,"color":"#000"},{"offset":0.6225,"color":"transparent"},{"offset":0.638,"color":"transparent"},
{"offset":0.638,"color":"#000"},{"offset":0.6445,"color":"#000"},{"offset":0.6445,"color":"transparent"},{"offset":0.66,"color":"transparent"},
{"offset":0.66,"color":"#000"},{"offset":0.6665,"color":"#000"},{"offset":0.6665,"color":"transparent"},{"offset":0.682,"color":"transparent"},
{"offset":0.682,"color":"#000"},{"offset":0.6885,"color":"#000"},{"offset":0.6885,"color":"transparent"},{"offset":0.704,"color":"transparent"},
{"offset":0.704,"color":"#000"},{"offset":0.7105,"color":"#000"},{"offset":0.7105,"color":"transparent"},{"offset":0.726,"color":"transparent"},
{"offset":0.726,"color":"#000"},{"offset":0.7325,"color":"#000"},{"offset":0.7325,"color":"transparent"},{"offset":0.748,"color":"transparent"},
{"offset":0.748,"color":"#000"},{"offset":0.7545,"color":"#000"},{"offset":0.7545,"color":"transparent"},{"offset":0.77,"color":"transparent"},
{"offset":0.77,"color":"#000"},{"offset":0.7765,"color":"#000"},{"offset":0.7765,"color":"transparent"},{"offset":0.792,"color":"transparent"},
{"offset":0.792,"color":"#000"},{"offset":0.7985,"color":"#000"},{"offset":0.7985,"color":"transparent"},{"offset":0.814,"color":"transparent"},
{"offset":0.814,"color":"#000"},{"offset":0.8205,"color":"#000"},{"offset":0.8205,"color":"transparent"},{"offset":0.836,"color":"transparent"},
{"offset":0.836,"color":"#000"},{"offset":0.8425,"color":"#000"},{"offset":0.8425,"color":"transparent"},{"offset":0.858,"color":"transparent"},
{"offset":0.858,"color":"#000"},{"offset":0.8645,"color":"#000"},{"offset":0.8645,"color":"transparent"},{"offset":0.88,"color":"transparent"},
{"offset":0.88,"color":"#000"},{"offset":0.8865,"color":"#000"},{"offset":0.8865,"color":"transparent"},{"offset":0.902,"color":"transparent"},
{"offset":0.902,"color":"#000"},{"offset":0.9085,"color":"#000"},{"offset":0.9085,"color":"transparent"},{"offset":0.924,"color":"transparent"},
{"offset":0.924,"color":"#000"},{"offset":0.9305,"color":"#000"},{"offset":0.9305,"color":"transparent"},{"offset":0.946,"color":"transparent"},
{"offset":0.946,"color":"#000"},{"offset":0.9525,"color":"#000"},{"offset":0.9525,"color":"transparent"},{"offset":0.968,"color":"transparent"},
{"offset":0.968,"color":"#000"},{"offset":0.9745,"color":"#000"},{"offset":0.9745,"color":"transparent"},{"offset":0.99,"color":"transparent"},
{"offset":0.99,"color":"#000"},{"offset":0.9965,"color":"#000"},{"offset":0.9965,"color":"transparent"},{"offset":1,"color":"transparent"}
]}},
{"test":"datum.group==='75～79歳'","value":{"gradient":"linear","x1":0,"y1":1,"x2":1,"y2":0,"stops":[
{"offset":0,"color":"transparent"},{"offset":0.0015,"color":"#000"},{"offset":0.003,"color":"transparent"},
{"offset":0.016,"color":"transparent"},{"offset":0.0175,"color":"#000"},{"offset":0.019,"color":"transparent"},
{"offset":0.032,"color":"transparent"},{"offset":0.0335,"color":"#000"},{"offset":0.035,"color":"transparent"},
{"offset":0.048,"color":"transparent"},{"offset":0.0495,"color":"#000"},{"offset":0.051,"color":"transparent"},
{"offset":0.064,"color":"transparent"},{"offset":0.0655,"color":"#000"},{"offset":0.067,"color":"transparent"},
{"offset":0.08,"color":"transparent"},{"offset":0.0815,"color":"#000"},{"offset":0.083,"color":"transparent"},
{"offset":0.096,"color":"transparent"},{"offset":0.0975,"color":"#000"},{"offset":0.099,"color":"transparent"},
{"offset":0.112,"color":"transparent"},{"offset":0.1135,"color":"#000"},{"offset":0.115,"color":"transparent"},
{"offset":0.128,"color":"transparent"},{"offset":0.1295,"color":"#000"},{"offset":0.131,"color":"transparent"},
{"offset":0.144,"color":"transparent"},{"offset":0.1455,"color":"#000"},{"offset":0.147,"color":"transparent"},
{"offset":0.16,"color":"transparent"},{"offset":0.1615,"color":"#000"},{"offset":0.163,"color":"transparent"},
{"offset":0.176,"color":"transparent"},{"offset":0.1775,"color":"#000"},{"offset":0.179,"color":"transparent"},
{"offset":0.192,"color":"transparent"},{"offset":0.1935,"color":"#000"},{"offset":0.195,"color":"transparent"},
{"offset":0.208,"color":"transparent"},{"offset":0.2095,"color":"#000"},{"offset":0.211,"color":"transparent"},
{"offset":0.224,"color":"transparent"},{"offset":0.2255,"color":"#000"},{"offset":0.227,"color":"transparent"},
{"offset":0.24,"color":"transparent"},{"offset":0.2415,"color":"#000"},{"offset":0.243,"color":"transparent"},
{"offset":0.256,"color":"transparent"},{"offset":0.2575,"color":"#000"},{"offset":0.259,"color":"transparent"},
{"offset":0.272,"color":"transparent"},{"offset":0.2735,"color":"#000"},{"offset":0.275,"color":"transparent"},
{"offset":0.288,"color":"transparent"},{"offset":0.2895,"color":"#000"},{"offset":0.291,"color":"transparent"},
{"offset":0.304,"color":"transparent"},{"offset":0.3055,"color":"#000"},{"offset":0.307,"color":"transparent"},
{"offset":0.32,"color":"transparent"},{"offset":0.3215,"color":"#000"},{"offset":0.323,"color":"transparent"},
{"offset":0.336,"color":"transparent"},{"offset":0.3375,"color":"#000"},{"offset":0.339,"color":"transparent"},
{"offset":0.352,"color":"transparent"},{"offset":0.3535,"color":"#000"},{"offset":0.355,"color":"transparent"},
{"offset":0.368,"color":"transparent"},{"offset":0.3695,"color":"#000"},{"offset":0.371,"color":"transparent"},
{"offset":0.384,"color":"transparent"},{"offset":0.3855,"color":"#000"},{"offset":0.387,"color":"transparent"},
{"offset":0.4,"color":"transparent"},{"offset":0.4015,"color":"#000"},{"offset":0.403,"color":"transparent"},
{"offset":0.416,"color":"transparent"},{"offset":0.4175,"color":"#000"},{"offset":0.419,"color":"transparent"},
{"offset":0.432,"color":"transparent"},{"offset":0.4335,"color":"#000"},{"offset":0.435,"color":"transparent"},
{"offset":0.448,"color":"transparent"},{"offset":0.4495,"color":"#000"},{"offset":0.451,"color":"transparent"},
{"offset":0.464,"color":"transparent"},{"offset":0.4655,"color":"#000"},{"offset":0.467,"color":"transparent"},
{"offset":0.48,"color":"transparent"},{"offset":0.4815,"color":"#000"},{"offset":0.483,"color":"transparent"},
{"offset":0.496,"color":"transparent"},{"offset":0.4975,"color":"#000"},{"offset":0.499,"color":"transparent"},
{"offset":0.512,"color":"transparent"},{"offset":0.5135,"color":"#000"},{"offset":0.515,"color":"transparent"},
{"offset":0.528,"color":"transparent"},{"offset":0.5295,"color":"#000"},{"offset":0.531,"color":"transparent"},
{"offset":0.544,"color":"transparent"},{"offset":0.5455,"color":"#000"},{"offset":0.547,"color":"transparent"},
{"offset":0.56,"color":"transparent"},{"offset":0.5615,"color":"#000"},{"offset":0.563,"color":"transparent"},
{"offset":0.576,"color":"transparent"},{"offset":0.5775,"color":"#000"},{"offset":0.579,"color":"transparent"},
{"offset":0.592,"color":"transparent"},{"offset":0.5935,"color":"#000"},{"offset":0.595,"color":"transparent"},
{"offset":0.608,"color":"transparent"},{"offset":0.6095,"color":"#000"},{"offset":0.611,"color":"transparent"},
{"offset":0.624,"color":"transparent"},{"offset":0.6255,"color":"#000"},{"offset":0.627,"color":"transparent"},
{"offset":0.64,"color":"transparent"},{"offset":0.6415,"color":"#000"},{"offset":0.643,"color":"transparent"},
{"offset":0.656,"color":"transparent"},{"offset":0.6575,"color":"#000"},{"offset":0.659,"color":"transparent"},
{"offset":0.672,"color":"transparent"},{"offset":0.6735,"color":"#000"},{"offset":0.675,"color":"transparent"},
{"offset":0.688,"color":"transparent"},{"offset":0.6895,"color":"#000"},{"offset":0.691,"color":"transparent"},
{"offset":0.704,"color":"transparent"},{"offset":0.7055,"color":"#000"},{"offset":0.707,"color":"transparent"},
{"offset":0.72,"color":"transparent"},{"offset":0.7215,"color":"#000"},{"offset":0.723,"color":"transparent"},
{"offset":0.736,"color":"transparent"},{"offset":0.7375,"color":"#000"},{"offset":0.739,"color":"transparent"},
{"offset":0.752,"color":"transparent"},{"offset":0.7535,"color":"#000"},{"offset":0.755,"color":"transparent"},
{"offset":0.768,"color":"transparent"},{"offset":0.7695,"color":"#000"},{"offset":0.771,"color":"transparent"},
{"offset":0.784,"color":"transparent"},{"offset":0.7855,"color":"#000"},{"offset":0.787,"color":"transparent"},
{"offset":0.8,"color":"transparent"},{"offset":0.8015,"color":"#000"},{"offset":0.803,"color":"transparent"},
{"offset":0.816,"color":"transparent"},{"offset":0.8175,"color":"#000"},{"offset":0.819,"color":"transparent"},
{"offset":0.832,"color":"transparent"},{"offset":0.8335,"color":"#000"},{"offset":0.835,"color":"transparent"},
{"offset":0.848,"color":"transparent"},{"offset":0.8495,"color":"#000"},{"offset":0.851,"color":"transparent"},
{"offset":0.864,"color":"transparent"},{"offset":0.8655,"color":"#000"},{"offset":0.867,"color":"transparent"},
{"offset":0.88,"color":"transparent"},{"offset":0.8815,"color":"#000"},{"offset":0.883,"color":"transparent"},
{"offset":0.896,"color":"transparent"},{"offset":0.8975,"color":"#000"},{"offset":0.899,"color":"transparent"},
{"offset":0.912,"color":"transparent"},{"offset":0.9135,"color":"#000"},{"offset":0.915,"color":"transparent"},
{"offset":0.928,"color":"transparent"},{"offset":0.9295,"color":"#000"},{"offset":0.931,"color":"transparent"},
{"offset":0.944,"color":"transparent"},{"offset":0.9455,"color":"#000"},{"offset":0.947,"color":"transparent"},
{"offset":0.96,"color":"transparent"},{"offset":0.9615,"color":"#000"},{"offset":0.963,"color":"transparent"},
{"offset":0.976,"color":"transparent"},{"offset":0.9775,"color":"#000"},{"offset":0.979,"color":"transparent"},
{"offset":0.992,"color":"transparent"},{"offset":0.9935,"color":"#000"},{"offset":0.995,"color":"transparent"}
]}}
],"value":"transparent"}}},
{"mark":{"type":"arc","outerRadius":366,"innerRadius":322,"padAngle":1,"fill":"transparent","strokeWidth":2},
"encoding":{"stroke":{"condition":{"test":"datum.group==='10歳代'||datum.group==='50歳代'||datum.group==='未回答'","value":"#000"},"value":"transparent"}}},
{"mark":{"type":"arc","outerRadius":350,"innerRadius":322,"padAngle":1,"fill":"transparent","strokeWidth":2},
"encoding":{"stroke":{"condition":{"test":"datum.group==='20歳代'","value":"#000"},"value":"transparent"}}},
{"mark":{"type":"arc","outerRadius":372,"innerRadius":322,"padAngle":1,"fill":"transparent","strokeWidth":2},
"encoding":{"stroke":{"condition":{"test":"datum.group==='30歳代'","value":"#000"},"value":"transparent"}}},
{"mark":{"type":"arc","outerRadius":350,"innerRadius":350,"thetaOffset":0.05655,"fill":"transparent","strokeWidth":2},
"encoding":{"stroke":{"condition":{"test":"datum.group==='20歳代'","value":"#000"},"value":"transparent"}}},
{"mark":{"type":"arc","outerRadius":372,"innerRadius":372,"thetaOffset":0.08482,"fill":"transparent","strokeWidth":2},
"encoding":{"stroke":{"condition":{"test":"datum.group==='30歳代'","value":"#000"},"value":"transparent"}}},
{"mark":{"type":"arc","outerRadius":372,"innerRadius":372,"thetaOffset":0.20176,"fill":"transparent","strokeWidth":2},
"encoding":{"stroke":{"condition":{"test":"datum.group==='30歳代'","value":"#000"},"value":"transparent"}}},
{"mark":{"type":"arc","outerRadius":366,"innerRadius":366,"thetaOffset":-0.2227,"fill":"transparent","strokeWidth":2},
"encoding":{"stroke":{"condition":{"test":"datum.group==='未回答'","value":"#000"},"value":"transparent"}}},
{"mark":{"type":"arc","outerRadius":366,"innerRadius":366,"thetaOffset":-0.13474,"fill":"transparent","strokeWidth":2},
"encoding":{"stroke":{"condition":{"test":"datum.group==='未回答'","value":"#000"},"value":"transparent"}}},
{"mark":{"type":"arc","outerRadius":366,"innerRadius":366,"thetaOffset":-0.04398,"fill":"transparent","strokeWidth":2},
"encoding":{"stroke":{"condition":{"test":"datum.group==='未回答'","value":"#000"},"value":"transparent"}}},
{"mark":{"type":"text","radius":223,"thetaOffset":0.0218,"dy":-11,"font":"Noto Sans CJK JP","fontSize":27,"fontWeight":300,"fill":"#fff","stroke":"#fff","strokeWidth":30,"strokeJoin":"round"},
"encoding":{"text":{"condition":{"test":"datum.group==='65～69歳'||datum.group==='70～74歳'","field":"group","type":"nominal"},"value":""}}},
{"mark":{"type":"text","radius":223,"thetaOffset":0.0218,"dy":11,"font":"Noto Sans CJK JP","fontSize":27,"fontWeight":300,"fill":"#fff","stroke":"#fff","strokeWidth":30,"strokeJoin":"round"},
"encoding":{"text":{"condition":{"test":"datum.group==='65～69歳'||datum.group==='70～74歳'","field":"group","type":"nominal"},"value":""}}},
{"mark":{"type":"text","radius":212,"thetaOffset":0,"dy":-11,"font":"Noto Sans CJK JP","fontSize":27,"fontWeight":300,"fill":"#fff","stroke":"#fff","strokeWidth":30,"strokeJoin":"round"},
"encoding":{"text":{"condition":{"test":"datum.group==='40歳代'||datum.group==='75～79歳'","field":"group","type":"nominal"},"value":""}}},
{"mark":{"type":"text","radius":212,"thetaOffset":0,"dy":11,"font":"Noto Sans CJK JP","fontSize":27,"fontWeight":300,"fill":"#fff","stroke":"#fff","strokeWidth":30,"strokeJoin":"round"},
"encoding":{"text":{"condition":{"test":"datum.group==='40歳代'||datum.group==='75～79歳'","field":"group","type":"nominal"},"value":""}}},
{"mark":{"type":"text","radius":237,"thetaOffset":0.0567,"dy":-11,"font":"Noto Sans CJK JP","fontSize":27,"fontWeight":300,"fill":"#fff","stroke":"#fff","strokeWidth":30,"strokeJoin":"round"},
"encoding":{"text":{"condition":{"test":"datum.group==='60～64歳'","field":"group","type":"nominal"},"value":""}}},
{"mark":{"type":"text","radius":237,"thetaOffset":0.0567,"dy":11,"font":"Noto Sans CJK JP","fontSize":27,"fontWeight":300,"fill":"#fff","stroke":"#fff","strokeWidth":30,"strokeJoin":"round"},
"encoding":{"text":{"condition":{"test":"datum.group==='60～64歳'","field":"group","type":"nominal"},"value":""}}},
{"mark":{"type":"text","radius":208,"thetaOffset":-0.2658,"dy":-11,"font":"Noto Sans CJK JP","fontSize":27,"fontWeight":300,"fill":"#fff","stroke":"#fff","strokeWidth":30,"strokeJoin":"round"},
"encoding":{"text":{"condition":{"test":"datum.group==='80歳以上'","field":"group","type":"nominal"},"value":""}}},
{"mark":{"type":"text","radius":208,"thetaOffset":-0.2658,"dy":11,"font":"Noto Sans CJK JP","fontSize":27,"fontWeight":300,"fill":"#fff","stroke":"#fff","strokeWidth":30,"strokeJoin":"round"},
"encoding":{"text":{"condition":{"test":"datum.group==='80歳以上'","field":"group","type":"nominal"},"value":""}}},
{"mark":{"type":"text","radius":223,"thetaOffset":0.0218,"dy":-16,"font":"Noto Sans CJK JP","fontSize":27,"fontWeight":300,"fill":"#111"},
"encoding":{"text":{"condition":{"test":"datum.group==='65～69歳'||datum.group==='70～74歳'","field":"group","type":"nominal"},"value":""}}},
{"mark":{"type":"text","radius":223,"thetaOffset":0.0218,"dy":16,"font":"Noto Sans CJK JP","fontSize":27,"fontWeight":300,"fill":"#111"},
"encoding":{"text":{"condition":{"test":"datum.group==='65～69歳'||datum.group==='70～74歳'","field":"share","type":"quantitative","format":".1%"},"value":""}}},
{"mark":{"type":"text","radius":212,"thetaOffset":0,"dy":-16,"font":"Noto Sans CJK JP","fontSize":27,"fontWeight":300,"fill":"#111"},
"encoding":{"text":{"condition":{"test":"datum.group==='40歳代'||datum.group==='75～79歳'","field":"group","type":"nominal"},"value":""}}},
{"mark":{"type":"text","radius":212,"thetaOffset":0,"dy":16,"font":"Noto Sans CJK JP","fontSize":27,"fontWeight":300,"fill":"#111"},
"encoding":{"text":{"condition":{"test":"datum.group==='40歳代'||datum.group==='75～79歳'","field":"share","type":"quantitative","format":".1%"},"value":""}}},
{"mark":{"type":"text","radius":237,"thetaOffset":0.0567,"dy":-16,"font":"Noto Sans CJK JP","fontSize":27,"fontWeight":300,"fill":"#111"},
"encoding":{"text":{"condition":{"test":"datum.group==='60～64歳'","field":"group","type":"nominal"},"value":""}}},
{"mark":{"type":"text","radius":237,"thetaOffset":0.0567,"dy":16,"font":"Noto Sans CJK JP","fontSize":27,"fontWeight":300,"fill":"#111"},
"encoding":{"text":{"condition":{"test":"datum.group==='60～64歳'","field":"share","type":"quantitative","format":".1%"},"value":""}}},
{"mark":{"type":"text","radius":208,"thetaOffset":-0.2658,"dy":-16,"font":"Noto Sans CJK JP","fontSize":27,"fontWeight":300,"fill":"#111"},
"encoding":{"text":{"condition":{"test":"datum.group==='80歳以上'","field":"group","type":"nominal"},"value":""}}},
{"mark":{"type":"text","radius":208,"thetaOffset":-0.2658,"dy":16,"font":"Noto Sans CJK JP","fontSize":27,"fontWeight":300,"fill":"#111"},
"encoding":{"text":{"condition":{"test":"datum.group==='80歳以上'","field":"share","type":"quantitative","format":".1%"},"value":""}}},
{"mark":{"type":"text","radius":394,"thetaOffset":0,"dy":-16,"font":"Noto Sans CJK JP","fontSize":27,"fontWeight":300,"fill":"#111"},
"encoding":{"text":{"condition":{"test":"datum.group==='10歳代'","field":"group","type":"nominal"},"value":""}}},
{"mark":{"type":"text","radius":394,"thetaOffset":0,"dy":16,"font":"Noto Sans CJK JP","fontSize":27,"fontWeight":300,"fill":"#111"},
"encoding":{"text":{"condition":{"test":"datum.group==='10歳代'","field":"share","type":"quantitative","format":".1%"},"value":""}}},
{"mark":{"type":"text","radius":422,"thetaOffset":0.2321,"dy":-16,"font":"Noto Sans CJK JP","fontSize":27,"fontWeight":300,"fill":"#111"},
"encoding":{"text":{"condition":{"test":"datum.group==='20歳代'","field":"group","type":"nominal"},"value":""}}},
{"mark":{"type":"text","radius":422,"thetaOffset":0.2321,"dy":16,"font":"Noto Sans CJK JP","fontSize":27,"fontWeight":300,"fill":"#111"},
"encoding":{"text":{"condition":{"test":"datum.group==='20歳代'","field":"share","type":"quantitative","format":".1%"},"value":""}}},
{"mark":{"type":"text","radius":425,"thetaOffset":0.3681,"dy":-16,"font":"Noto Sans CJK JP","fontSize":27,"fontWeight":300,"fill":"#111"},
"encoding":{"text":{"condition":{"test":"datum.group==='30歳代'","field":"group","type":"nominal"},"value":""}}},
{"mark":{"type":"text","radius":425,"thetaOffset":0.3681,"dy":16,"font":"Noto Sans CJK JP","fontSize":27,"fontWeight":300,"fill":"#111"},
"encoding":{"text":{"condition":{"test":"datum.group==='30歳代'","field":"share","type":"quantitative","format":".1%"},"value":""}}},
{"mark":{"type":"text","radius":391,"thetaOffset":-0.4346,"dy":-16,"font":"Noto Sans CJK JP","fontSize":27,"fontWeight":300,"fill":"#111"},
"encoding":{"text":{"condition":{"test":"datum.group==='未回答'","field":"group","type":"nominal"},"value":""}}},
{"mark":{"type":"text","radius":391,"thetaOffset":-0.4346,"dy":16,"font":"Noto Sans CJK JP","fontSize":27,"fontWeight":300,"fill":"#111"},
"encoding":{"text":{"condition":{"test":"datum.group==='未回答'","field":"share","type":"quantitative","format":".1%"},"value":""}}}
]
}
